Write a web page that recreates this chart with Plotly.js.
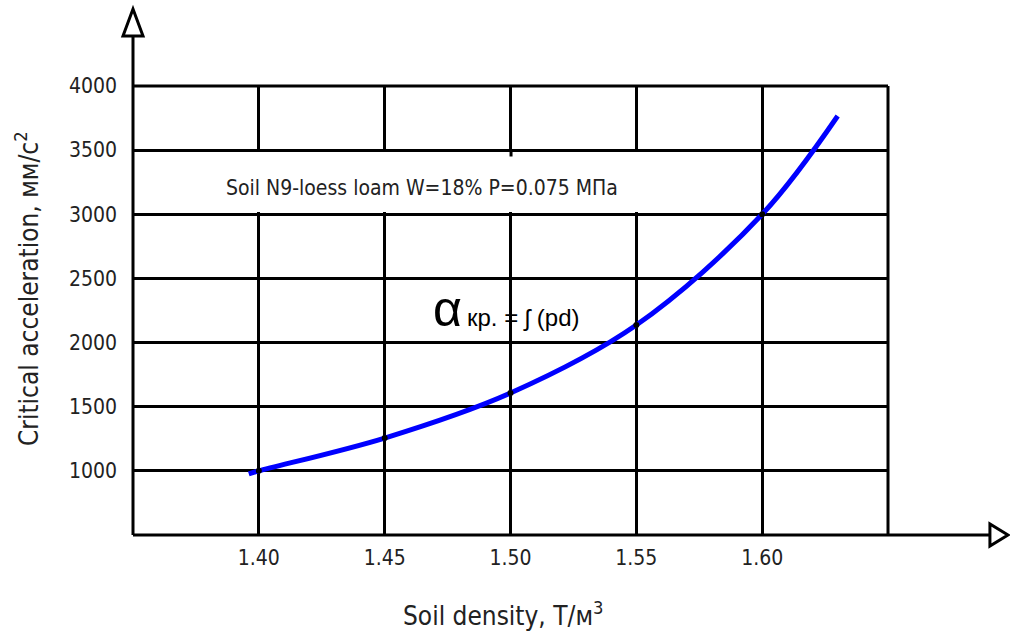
<!DOCTYPE html>
<html>
<head>
<meta charset="utf-8">
<script src="https://cdn.plot.ly/plotly-3.0.1.min.js"></script>
<style>html,body{margin:0;padding:0;background:#fff;}#chart{width:1010px;height:632px;}</style>
</head>
<body>
<div id="chart"></div>
<script>
// Curve of critical acceleration vs soil density
const curveDensity = [1.396, 1.40, 1.45, 1.50, 1.55, 1.60, 1.630];
const curveAccel   = [976, 1000, 1256, 1607, 2137, 3000, 3766];
// Measured points (black dots)
const pointDensity = [1.40, 1.45, 1.50, 1.55, 1.60];
const pointAccel   = [1000, 1256, 1607, 2137, 3000];
// Ticks
const xTickVals = [1.40, 1.45, 1.50, 1.55, 1.60];
const xTickText = ['1.40', '1.45', '1.50', '1.55', '1.60'];
const yTickVals = [1000, 1500, 2000, 2500, 3000, 3500, 4000];
const yTickText = ['1000', '1500', '2000', '2500', '3000', '3500', '4000'];

const FONT = '"Liberation Sans Narrow", "DejaVu Sans Condensed", "Roboto Condensed", sans-serif';
const TXT = '#222';
const BLK = {color: '#000', width: 3};

const traces = [
  {x: curveDensity, y: curveAccel, mode: 'lines', type: 'scatter',
   line: {color: '#0000ff', width: 5, shape: 'spline', smoothing: 1}, hoverinfo: 'skip'},
  {x: pointDensity, y: pointAccel, mode: 'markers', type: 'scatter',
   marker: {color: '#000', size: 6}, hoverinfo: 'skip'}
];

const layout = {
  width: 1010, height: 632,
  margin: {l: 133, r: 122, t: 86, b: 97},
  paper_bgcolor: '#fff', plot_bgcolor: '#fff',
  showlegend: false,
  font: {family: FONT, size: 21, color: TXT},
  xaxis: {
    range: [1.35, 1.65], tickvals: xTickVals, ticktext: xTickText,
    showgrid: true, gridcolor: '#000', gridwidth: 3,
    showline: false, zeroline: false, ticks: '', ticklabelstandoff: 8,
    tickfont: {family: FONT, size: 21, color: TXT}
  },
  yaxis: {
    range: [500, 4000], tickvals: yTickVals, ticktext: yTickText,
    showgrid: true, gridcolor: '#000', gridwidth: 3,
    showline: false, zeroline: false, ticks: '', ticklabelstandoff: 15,
    tickfont: {family: FONT, size: 21, color: TXT}
  },
  shapes: [
    // white band behind the soil label
    {type: 'rect', xref: 'paper', yref: 'paper', x0: 0.004, x1: 0.75, y0: 0.7194, y1: 0.853,
     fillcolor: '#fff', line: {width: 0}, layer: 'above'},
    // small stub below 3500 at 1.50
    {type: 'line', xref: 'paper', yref: 'paper', x0: 0.5007, x1: 0.5007, y0: 0.8575, y1: 0.843, line: BLK},
    // frame: top and right
    {type: 'line', xref: 'paper', yref: 'paper', x0: 0, x1: 1, y0: 1, y1: 1, line: BLK},
    {type: 'line', xref: 'paper', yref: 'paper', x0: 1, x1: 1, y0: 0, y1: 1, line: BLK},
    // y axis with arrow
    {type: 'line', xref: 'paper', yref: 'paper', x0: 0, x1: 0, y0: 0, y1: 1.111, line: BLK},
    {type: 'path', xref: 'paper', yref: 'paper',
     path: 'M -0.01325 1.1114 L 0.01325 1.1114 L 0 1.1715 Z',
     fillcolor: '#fff', line: BLK},
    // x axis with arrow
    {type: 'line', xref: 'paper', yref: 'paper', x0: 0, x1: 1.135, y0: 0, y1: 0, line: BLK},
    {type: 'path', xref: 'paper', yref: 'paper',
     path: 'M 1.135 0.0245 L 1.135 -0.0245 L 1.1589 0 Z',
     fillcolor: '#fff', line: BLK}
  ],
  annotations: [
    {text: 'Soil N9-loess loam W=18% P=0.075 МПа', xref: 'paper', yref: 'paper',
     x: 0.3828, y: 0.7728, xanchor: 'center', yanchor: 'middle', showarrow: false,
     font: {family: FONT, size: 21, color: TXT}},
    {text: 'α', xref: 'paper', yref: 'paper', x: 0.416, y: 0.503,
     xanchor: 'center', yanchor: 'middle', showarrow: false,
     font: {family: '"Liberation Sans", Arial, sans-serif', size: 50, color: '#000'}},
    {text: 'кр. = ʃ (pd)', xref: 'paper', yref: 'paper', x: 0.4397, y: 0.4855,
     xanchor: 'left', yanchor: 'middle', showarrow: false,
     font: {family: '"Liberation Sans", Arial, sans-serif', size: 24, color: '#000'}},
    {text: 'Soil density, Т/м<sup>3</sup>', xref: 'paper', yref: 'paper',
     x: (503 - 133) / 755, y: (535 - 614) / 449, xanchor: 'center', yanchor: 'middle',
     showarrow: false, font: {family: FONT, size: 26, color: TXT}},
    {text: 'Critical acceleration, мм/с<sup>2</sup>', xref: 'paper', yref: 'paper',
     x: (27 - 133) / 755, y: (535 - 289) / 449, xanchor: 'center', yanchor: 'middle',
     textangle: -90, showarrow: false, font: {family: FONT, size: 26, color: TXT}}
  ]
};

Plotly.newPlot('chart', traces, layout, {displayModeBar: false, staticPlot: true});
</script>
</body>
</html>
